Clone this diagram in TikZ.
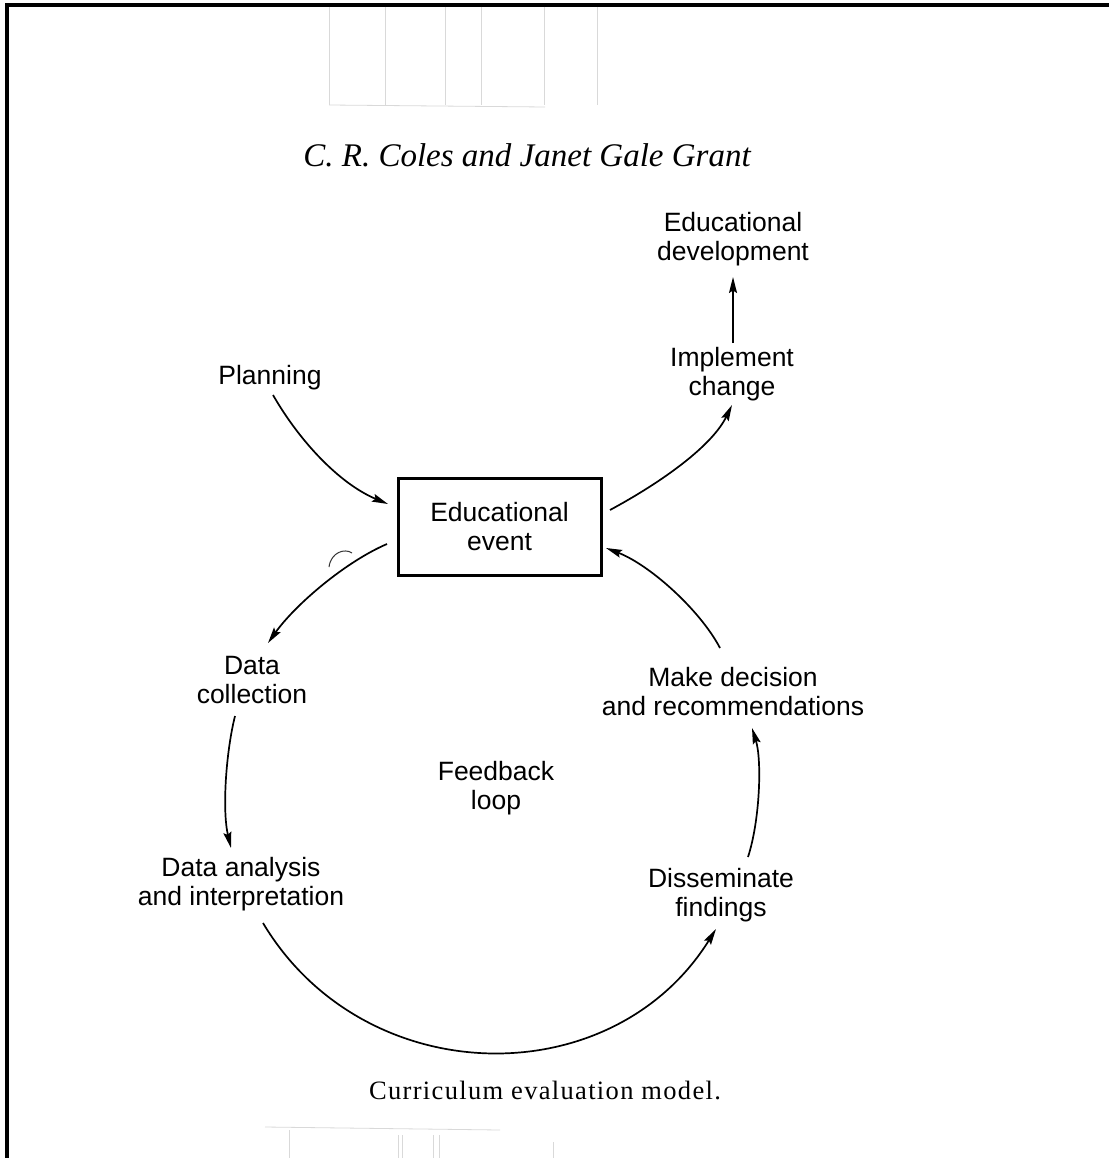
\documentclass[tikz,border=0pt]{standalone}
\usepackage{fontspec}
\setmainfont{Liberation Serif}
\newfontfamily\labfont{Liberation Sans}
\newfontfamily\titlefont{Liberation Serif}
\newfontfamily\capfont[LetterSpace=5]{Liberation Serif}
\usetikzlibrary{arrows.meta}
\begin{document}
\begin{tikzpicture}[x=1pt,y=-1pt,
  lab/.style={align=center,inner sep=0pt,font=\labfont\fontsize{26.5}{29}\selectfont},
  conn/.style={line width=1.7pt,-{Stealth[length=16pt,width=8pt,inset=2.5pt]}},
  scan/.style={line width=0.8pt,black!15},
  frame/.style={fill=black}]
  % page
  \fill[white] (0,0) rectangle (1109,1158);
  \useasboundingbox (0,0) rectangle (1109,1158);
  \fill[frame] (5,3) rectangle (1109,7);
  \fill[frame] (5,3) rectangle (9,1158);
  % show-through lines of the scan
  \foreach \xx in {329,385,445,481,544,597}{\draw[scan] (\xx,7) -- (\xx,105);}
  \draw[scan] (329,105) -- (545,107);
  \foreach \xx/\yy in {289/1130,398/1135,402/1135,433/1135,439/1135,553/1142}{\draw[scan] (\xx,\yy) -- (\xx,1158);}
  \draw[scan] (265,1127) -- (500,1130);
  % pencil mark
  \draw[line width=1pt,black!80] (329,567) .. controls (331,552) and (345,548) .. (352,553);
  % title and caption
  \node (title) at (527,155) {\titlefont\itshape\fontsize{33}{38}\selectfont C. R. Coles and Janet Gale Grant};
  \node (caption) at (545,1090) {\capfont\fontsize{26.5}{30}\selectfont Curriculum evaluation model.};
  % nodes
  \node[draw,line width=3pt,minimum width=203pt,minimum height=97pt,lab] (box) at (499.5,526.5) {Educational\\event};
  \node[lab] (dev) at (733,239) {Educational\\development};
  \node[lab] (impl) at (732,374) {Implement\\change};
  \node[lab] (plan) at (270,378) {Planning};
  \node[lab] (coll) at (252,680) {Data\\collection};
  \node[lab] (dec) at (733,692) {Make decision\\and recommendations};
  \node[lab] (fb) at (496,788) {Feedback\\loop};
  \node[lab] (ana) at (241,884) {Data analysis\\and interpretation};
  \node[lab] (dis) at (721,895) {Disseminate\\findings};
  % connectors
  \draw[conn] ([shift={(3,17)}]plan.center) .. controls (300,442) and (340,484) .. ([shift={(-111.5,-22.5)}]box.center);
  \draw[conn] ([shift={(110.5,-16.5)}]box.center) .. controls (662,482) and (712,446) .. ([shift={(0,31)}]impl.center);
  \draw[conn] ([shift={(1,-31)}]impl.center) -- ([shift={(0,38)}]dev.center);
  \draw[conn] ([shift={(-112.5,17.5)}]box.center) .. controls (345,562) and (295,605) .. ([shift={(16,-37)}]coll.center);
  \draw[conn] ([shift={(-17,36)}]coll.center) .. controls (226,752) and (222,810) .. ([shift={(-10,-36)}]ana.center);
  \draw[conn] ([shift={(22,39)}]ana.center) .. controls (364,1092) and (612,1096) .. ([shift={(-5,34)}]dis.center);
  \draw[conn] ([shift={(27,-38)}]dis.center) .. controls (760,820) and (762,760) .. ([shift={(19,36)}]dec.center);
  \draw[conn] ([shift={(-13,-44)}]dec.center) .. controls (700,610) and (650,565) .. ([shift={(106.5,21.5)}]box.center);
\end{tikzpicture}
\end{document}
